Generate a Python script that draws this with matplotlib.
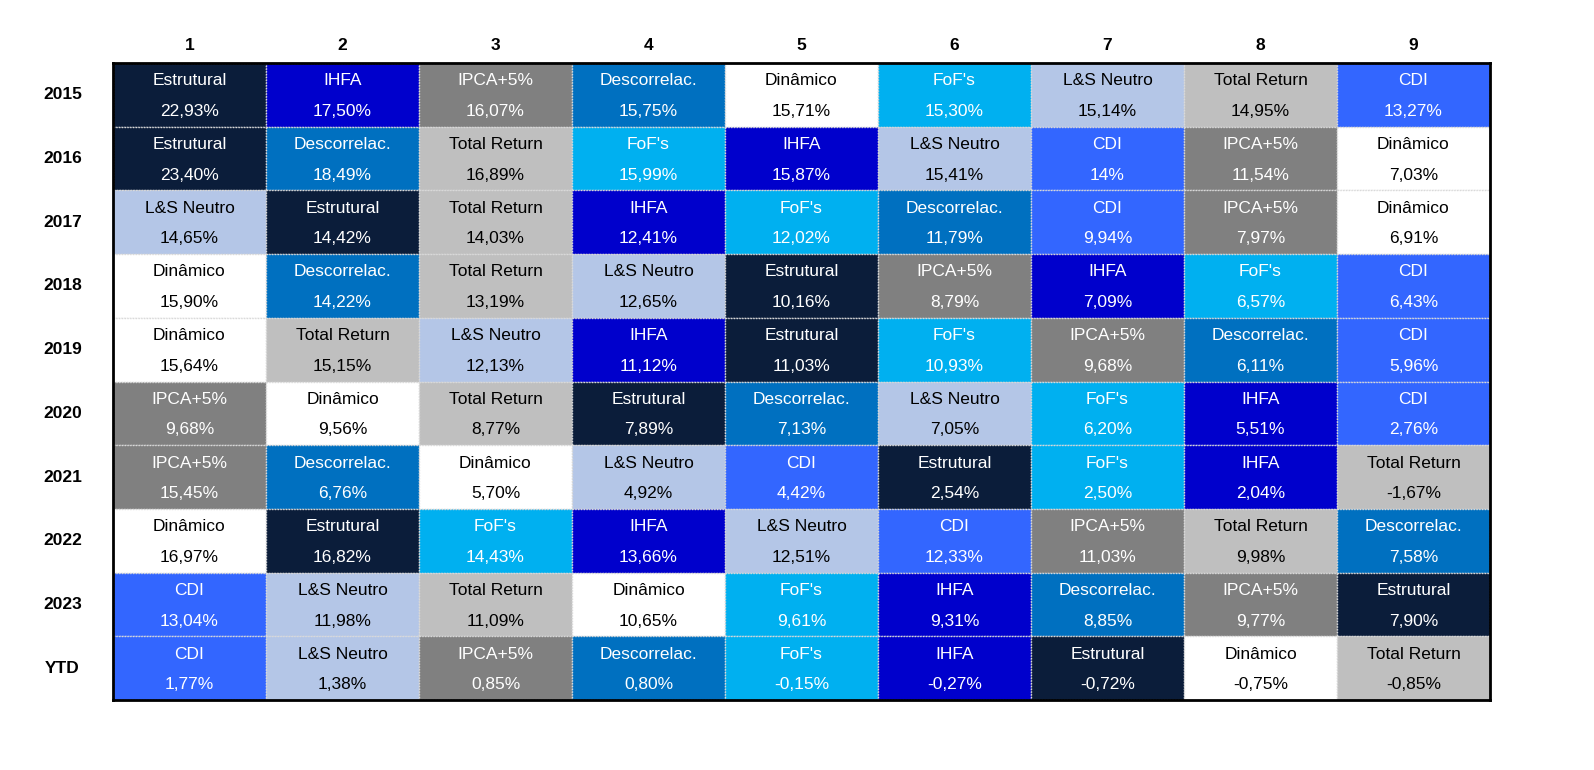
import matplotlib
matplotlib.use("Agg")
import matplotlib.pyplot as plt
from matplotlib.patches import Rectangle

years = ["2015","2016","2017","2018","2019","2020","2021","2022","2023","YTD"]
ranks = ["1","2","3","4","5","6","7","8","9"]
names = [
 ["Estrutural","IHFA","IPCA+5%","Descorrelac.","Dinâmico","FoF's","L&S Neutro","Total Return","CDI"],
 ["Estrutural","Descorrelac.","Total Return","FoF's","IHFA","L&S Neutro","CDI","IPCA+5%","Dinâmico"],
 ["L&S Neutro","Estrutural","Total Return","IHFA","FoF's","Descorrelac.","CDI","IPCA+5%","Dinâmico"],
 ["Dinâmico","Descorrelac.","Total Return","L&S Neutro","Estrutural","IPCA+5%","IHFA","FoF's","CDI"],
 ["Dinâmico","Total Return","L&S Neutro","IHFA","Estrutural","FoF's","IPCA+5%","Descorrelac.","CDI"],
 ["IPCA+5%","Dinâmico","Total Return","Estrutural","Descorrelac.","L&S Neutro","FoF's","IHFA","CDI"],
 ["IPCA+5%","Descorrelac.","Dinâmico","L&S Neutro","CDI","Estrutural","FoF's","IHFA","Total Return"],
 ["Dinâmico","Estrutural","FoF's","IHFA","L&S Neutro","CDI","IPCA+5%","Total Return","Descorrelac."],
 ["CDI","L&S Neutro","Total Return","Dinâmico","FoF's","IHFA","Descorrelac.","IPCA+5%","Estrutural"],
 ["CDI","L&S Neutro","IPCA+5%","Descorrelac.","FoF's","IHFA","Estrutural","Dinâmico","Total Return"],
]
values = [
 ["22,93%","17,50%","16,07%","15,75%","15,71%","15,30%","15,14%","14,95%","13,27%"],
 ["23,40%","18,49%","16,89%","15,99%","15,87%","15,41%","14%","11,54%","7,03%"],
 ["14,65%","14,42%","14,03%","12,41%","12,02%","11,79%","9,94%","7,97%","6,91%"],
 ["15,90%","14,22%","13,19%","12,65%","10,16%","8,79%","7,09%","6,57%","6,43%"],
 ["15,64%","15,15%","12,13%","11,12%","11,03%","10,93%","9,68%","6,11%","5,96%"],
 ["9,68%","9,56%","8,77%","7,89%","7,13%","7,05%","6,20%","5,51%","2,76%"],
 ["15,45%","6,76%","5,70%","4,92%","4,42%","2,54%","2,50%","2,04%","-1,67%"],
 ["16,97%","16,82%","14,43%","13,66%","12,51%","12,33%","11,03%","9,98%","7,58%"],
 ["13,04%","11,98%","11,09%","10,65%","9,61%","9,31%","8,85%","9,77%","7,90%"],
 ["1,77%","1,38%","0,85%","0,80%","-0,15%","-0,27%","-0,72%","-0,75%","-0,85%"],
]
colors = {
 "Estrutural": ("#0b1d3a","white"), "IHFA": ("#0000cc","white"),
 "IPCA+5%": ("#808080","white"), "Descorrelac.": ("#0070c0","white"),
 "Dinâmico": ("#ffffff","black"), "FoF's": ("#00b0f0","white"),
 "L&S Neutro": ("#b4c6e7","black"), "Total Return": ("#bfbfbf","black"),
 "CDI": ("#3366ff","white"),
}

fig = plt.figure(figsize=(15.94, 7.7), dpi=100)
ax = fig.add_axes([113/1594, 1-700/770, (1490-113)/1594, (700-63)/770])
ax.set_xlim(0, len(ranks)); ax.set_ylim(len(years), 0)
fs = 12.5
fam = ["Liberation Sans", "DejaVu Sans"]
for r, yr in enumerate(years):
    for c in range(len(ranks)):
        n = names[r][c]; bg, fg = colors[n]
        ax.add_patch(Rectangle((c, r), 1, 1, facecolor=bg, edgecolor="#d9d9d9",
                               linestyle=(0, (1, 1)), linewidth=1))
        ax.text(c+0.5, r+0.28, n, ha="center", va="center", color=fg, fontsize=fs, family=fam)
        ax.text(c+0.5, r+0.76, values[r][c], ha="center", va="center", color=fg, fontsize=fs, family=fam)
    ax.text(-0.33, r+0.5, yr, ha="center", va="center", fontsize=fs, fontweight="bold", family=fam)
for c, lab in enumerate(ranks):
    ax.text(c+0.5, -0.27, lab, ha="center", va="center", fontsize=fs, fontweight="bold", family=fam)
ax.set_xticks([]); ax.set_yticks([])
for s in ax.spines.values():
    s.set_linewidth(2); s.set_color("black")
fig.savefig("out.png", dpi=100)
